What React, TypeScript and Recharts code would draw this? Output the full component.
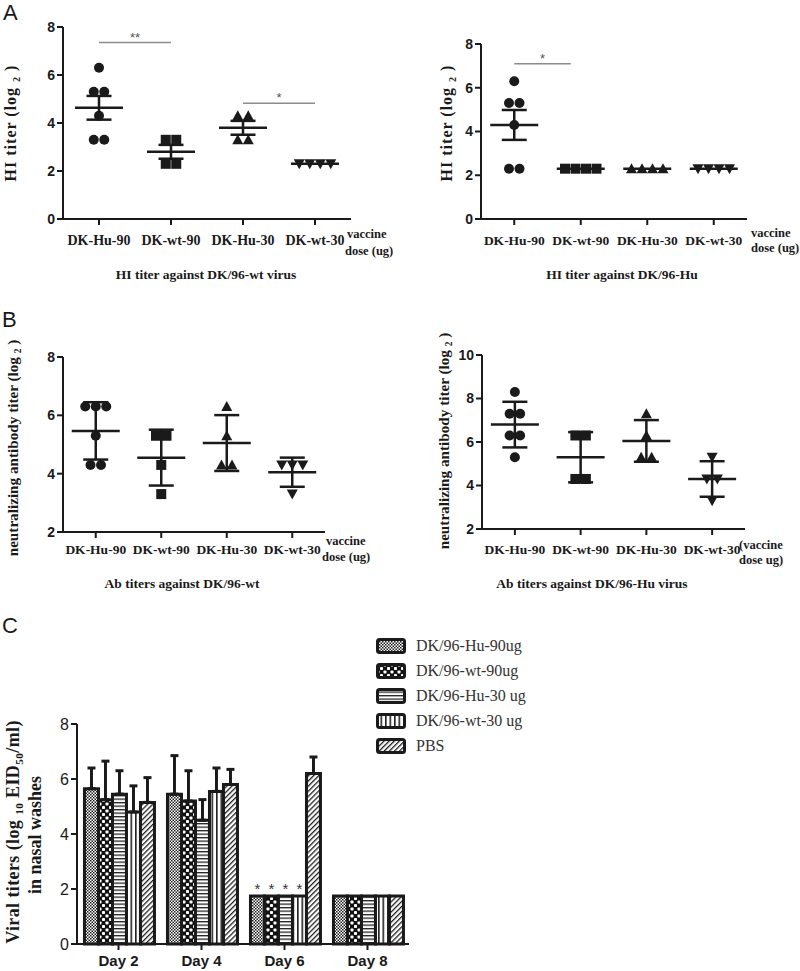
import React from 'react';
import {
  ScatterChart, Scatter, XAxis, YAxis, ErrorBar, ReferenceLine,
  BarChart, Bar, LabelList, Legend,
} from 'recharts';

const SERIF = '"Liberation Serif", "Times New Roman", serif';
const SANS = '"Liberation Sans", Arial, sans-serif';
const INK = '#1a1a1a';

// vaccine groups (x categories of panels A and B)
const groups = ['DK-Hu-90', 'DK-wt-90', 'DK-Hu-30', 'DK-wt-30'];

// A left: HI titer against DK/96-wt virus (log2), one value per bird
const hiWtHu90 = [6.3, 5.3, 5.3, 4.3, 3.3, 3.3];
const hiWtWt90 = [3.3, 3.3, 2.3, 2.3];
const hiWtHu30 = [4.3, 4.3, 3.3, 3.3];
const hiWtWt30 = [2.3, 2.3, 2.3, 2.3];

// A right: HI titer against DK/96-Hu
const hiHuHu90 = [6.3, 5.3, 5.3, 4.3, 2.3, 2.3];
const hiHuWt90 = [2.3, 2.3, 2.3, 2.3];
const hiHuHu30 = [2.3, 2.3, 2.3, 2.3];
const hiHuWt30 = [2.3, 2.3, 2.3, 2.3];

// B left: neutralizing Ab titers against DK/96-wt
const nWtHu90 = [6.3, 6.3, 6.3, 5.3, 4.3, 4.3];
const nWtWt90 = [5.3, 5.3, 4.3, 3.3];
const nWtHu30 = [6.3, 5.3, 4.3, 4.3];
const nWtWt30 = [4.3, 4.3, 4.3, 3.3];

// B right: neutralizing Ab titers against DK/96-Hu virus
const nHuHu90 = [8.3, 7.3, 7.3, 6.3, 6.3, 5.3];
const nHuWt90 = [6.3, 6.3, 4.3, 4.3];
const nHuHu30 = [7.3, 6.3, 5.3, 5.3];
const nHuWt30 = [5.3, 4.3, 4.3, 3.3];

// significance brackets (x from/to in group units, y level)
const sigHiWt = [
  { from: 0.5, to: 1.5, y: 7.35, mark: '**' },
  { from: 2.5, to: 3.5, y: 4.82, mark: '*' },
];
const sigHiHu = [{ from: 0.5, to: 1.35, y: 7.1, mark: '*' }];

// C: viral titers in nasal washes
const days = ['Day 2', 'Day 4', 'Day 6', 'Day 8'];
const seriesNames = ['DK/96-Hu-90ug', 'DK/96-wt-90ug', 'DK/96-Hu-30 ug', 'DK/96-wt-30 ug', 'PBS'];
const titerHu90 = [5.65, 5.45, 1.75, 1.75];
const titerWt90 = [5.25, 5.2, 1.75, 1.75];
const titerHu30 = [5.45, 4.5, 1.75, 1.75];
const titerWt30 = [4.8, 5.55, 1.75, 1.75];
const titerPbs = [5.15, 5.8, 6.2, 1.75];
const sdHu90 = [0.75, 1.4, null, null];
const sdWt90 = [1.4, 1.1, null, null];
const sdHu30 = [0.85, 0.75, null, null];
const sdWt30 = [0.95, 0.85, null, null];
const sdPbs = [0.9, 0.55, 0.6, null];
const sigMark = ['', '', '*', ''];

const barKeys = ['hu90', 'wt90', 'hu30', 'wt30', 'pbs'];
const barValues = [titerHu90, titerWt90, titerHu30, titerWt30, titerPbs];
const barSd = [sdHu90, sdWt90, sdHu30, sdWt30, sdPbs];
const patternIds = ['pFine', 'pCoarse', 'pHor', 'pVer', 'pDiag'];

const barRows = days.map((day, i) => {
  const row: any = { day };
  barKeys.forEach((k, s) => {
    row[k] = barValues[s][i];
    const e = barSd[s][i];
    row[k + 'Err'] = e == null ? null : [0, e];
    row[k + 'Sig'] = s < 4 ? sigMark[i] : '';
  });
  return row;
});

const mean = (a: number[]) => a.reduce((s, v) => s + v, 0) / a.length;
const stdev = (a: number[]) => {
  const m = mean(a);
  return Math.sqrt(a.reduce((s, v) => s + (v - m) ** 2, 0) / (a.length - 1));
};

// lay equal values side by side around the group centre
function spread(vals: number[], center: number, step: number) {
  const counts = new Map<number, number>();
  vals.forEach((v) => counts.set(v, (counts.get(v) || 0) + 1));
  const seen = new Map<number, number>();
  return vals.map((v) => {
    const n = counts.get(v) || 1;
    const k = seen.get(v) || 0;
    seen.set(v, k + 1);
    return { x: center + (k - (n - 1) / 2) * step, y: v };
  });
}

const markerKinds = ['circle', 'square', 'up', 'down'];

function Marker({ kind, cx, cy }: { kind: string; cx: number; cy: number }) {
  if (kind === 'circle') return <circle cx={cx} cy={cy} r={5} fill={INK} />;
  if (kind === 'square') return <rect x={cx - 5} y={cy - 5} width={10} height={10} fill={INK} />;
  if (kind === 'up')
    return <polygon points={`${cx},${cy - 5.5} ${cx + 5.5},${cy + 4.5} ${cx - 5.5},${cy + 4.5}`} fill={INK} />;
  return <polygon points={`${cx},${cy + 5.5} ${cx + 5.5},${cy - 4.5} ${cx - 5.5},${cy - 4.5}`} fill={INK} />;
}

type Margin = { top: number; right: number; bottom: number; left: number };

function DotPanel(props: {
  left: number; top: number; width: number; height: number; margin: Margin;
  sets: number[][]; useSd: boolean; yDomain: [number, number]; yTicks: number[];
  sig?: { from: number; to: number; y: number; mark: string }[];
  catFont: number; catMargin: number;
}) {
  const { left, top, width, height, margin, sets, useSd, yDomain, yTicks, sig = [], catFont, catMargin } = props;
  const plotW = width - margin.left - margin.right - 40;
  const step = (10.5 * 4) / plotW;
  const summary = sets.map((vals, i) => ({
    x: i + 0.5,
    y: mean(vals),
    err: useSd ? stdev(vals) : stdev(vals) / Math.sqrt(vals.length),
  }));
  return (
    <div style={{ position: 'absolute', left, top }}>
      <ScatterChart width={width} height={height} margin={margin}>
        <XAxis
          type="number" dataKey="x" domain={[0, 4]} ticks={[0.5, 1.5, 2.5, 3.5]} interval={0}
          allowDataOverflow tickFormatter={(v: number) => groups[Math.floor(v)]}
          height={30} tickSize={6} tickMargin={catMargin}
          tick={{ fill: INK, fontSize: catFont, fontWeight: 'bold', fontFamily: SERIF }}
          axisLine={{ stroke: INK, strokeWidth: 2 }} tickLine={{ stroke: INK, strokeWidth: 2 }}
        />
        <YAxis
          type="number" dataKey="y" domain={yDomain} ticks={yTicks} interval={0} allowDataOverflow
          width={40} tickSize={6}
          tick={{ fill: INK, fontSize: 14, fontWeight: 'bold', fontFamily: SANS }}
          axisLine={{ stroke: INK, strokeWidth: 2 }} tickLine={{ stroke: INK, strokeWidth: 2 }}
        />
        {sig.map((s, i) => (
          <ReferenceLine
            key={i}
            segment={[{ x: s.from, y: s.y }, { x: s.to, y: s.y }]}
            stroke="#8c8c8c" strokeWidth={1.5}
            label={{ value: s.mark, position: 'top', offset: 1, fill: '#555', fontSize: 13, fontFamily: SANS }}
          />
        ))}
        {sets.map((vals, i) => (
          <Scatter
            key={i}
            data={spread(vals, i + 0.5, step)}
            isAnimationActive={false}
            shape={(p: any) => <Marker kind={markerKinds[i]} cx={p.cx} cy={p.cy} />}
          />
        ))}
        <Scatter
          data={summary}
          isAnimationActive={false}
          shape={(p: any) => (
            <line x1={p.cx - 24} x2={p.cx + 24} y1={p.cy} y2={p.cy} stroke={INK} strokeWidth={2.5} />
          )}
        >
          <ErrorBar dataKey="err" direction="y" width={12.5} stroke={INK} strokeWidth={2.5} />
        </Scatter>
      </ScatterChart>
    </div>
  );
}

function VTitle({ x, y, size, spacing = 0, children }: { x: number; y: number; size: number; spacing?: number; children: React.ReactNode }) {
  return (
    <text
      transform={`translate(${x},${y}) rotate(-90)`} textAnchor="middle"
      fontFamily={SERIF} fontWeight="bold" fontSize={size} fill={INK} letterSpacing={spacing}
    >
      {children}
    </text>
  );
}

function Sub({ size, children }: { size: number; children: React.ReactNode }) {
  return (
    <>
      <tspan fontSize={size * 0.62} dy={size * 0.22}>{children}</tspan>
      <tspan dy={-size * 0.22}>{' '}</tspan>
    </>
  );
}

function BoldText({ x, y, size = 12.5, children, anchor = 'start' }: { x: number; y: number; size?: number; children: React.ReactNode; anchor?: string }) {
  return (
    <text x={x} y={y} textAnchor={anchor as any} fontFamily={SERIF} fontWeight="bold" fontSize={size} fill={INK}>
      {children}
    </text>
  );
}

function LegendBox() {
  return (
    <div>
      {seriesNames.map((n, i) => (
        <div key={n} style={{ display: 'flex', alignItems: 'center', height: 24.8 }}>
          <svg width={30} height={16}>
            <rect x={1.5} y={1.5} width={27} height={13} rx={2} fill={`url(#${patternIds[i]})`} stroke={INK} strokeWidth={3} />
          </svg>
          <span style={{ marginLeft: 10, fontFamily: SERIF, fontSize: 16, color: '#333', lineHeight: '16px' }}>{n}</span>
        </div>
      ))}
    </div>
  );
}

function Overlay() {
  return (
    <svg width={800} height={971} style={{ position: 'absolute', left: 0, top: 0 }}>
      <defs>
        <pattern id="pFine" width={3} height={3} patternUnits="userSpaceOnUse">
          <rect width={3} height={3} fill="#fff" />
          <rect width={1.5} height={1.5} fill="#222" />
          <rect x={1.5} y={1.5} width={1.5} height={1.5} fill="#222" />
        </pattern>
        <pattern id="pCoarse" width={7} height={7} patternUnits="userSpaceOnUse">
          <rect width={7} height={7} fill="#111" />
          <rect x={0.5} y={0.5} width={3} height={3} rx={0.8} fill="#fff" />
          <rect x={4} y={4} width={3} height={3} rx={0.8} fill="#fff" />
        </pattern>
        <pattern id="pHor" width={4} height={3.5} patternUnits="userSpaceOnUse">
          <rect width={4} height={3.5} fill="#fff" />
          <rect width={4} height={1.3} fill="#222" />
        </pattern>
        <pattern id="pVer" width={4.5} height={4} patternUnits="userSpaceOnUse">
          <rect width={4.5} height={4} fill="#fff" />
          <rect width={1.6} height={4} fill="#222" />
        </pattern>
        <pattern id="pDiag" width={3.6} height={3.6} patternUnits="userSpaceOnUse" patternTransform="rotate(45)">
          <rect width={3.6} height={3.6} fill="#fff" />
          <rect width={1.3} height={3.6} fill="#222" />
        </pattern>
      </defs>

      <g fontFamily={SANS} fontSize={22} fill={INK}>
        <text x={3} y={20}>A</text>
        <text x={2} y={327}>B</text>
        <text x={2} y={633}>C</text>
      </g>

      <VTitle x={16} y={123} size={16} spacing={1}>HI titer (log <Sub size={16}>2</Sub>)</VTitle>
      <VTitle x={452} y={123} size={16} spacing={1}>HI titer (log <Sub size={16}>2</Sub>)</VTitle>
      <VTitle x={18} y={448} size={15.2}>neutralizing antibody titer (log <Sub size={15.2}>2</Sub>)</VTitle>
      <VTitle x={449} y={441} size={15.2}>neutralizing antibody titer (log <Sub size={15.2}>2</Sub>)</VTitle>
      <VTitle x={19} y={832} size={18} spacing={0.4}>
        Viral titers (log <Sub size={18}>10</Sub>EID<tspan fontSize={18 * 0.62} dy={4}>50</tspan><tspan dy={-4}>/ml)</tspan>
      </VTitle>
      <VTitle x={41} y={835} size={18}>in nasal washes</VTitle>

      <BoldText x={206} y={279} size={13.5} anchor="middle">HI titer against DK/96-wt virus</BoldText>
      <BoldText x={622} y={279} size={13.5} anchor="middle">HI titer against DK/96-Hu</BoldText>
      <BoldText x={182} y={588} size={13.5} anchor="middle">Ab titers against DK/96-wt</BoldText>
      <BoldText x={592} y={588} size={13.5} anchor="middle">Ab titers against DK/96-Hu virus</BoldText>

      <BoldText x={347} y={238}>vaccine</BoldText>
      <BoldText x={345} y={255}>dose (ug)</BoldText>
      <BoldText x={751} y={237}>vaccine</BoldText>
      <BoldText x={751} y={252}>dose (ug)</BoldText>
      <BoldText x={326} y={545}>vaccine</BoldText>
      <BoldText x={322} y={561}>dose (ug)</BoldText>
      <BoldText x={739} y={549}>(vaccine</BoldText>
      <BoldText x={739} y={564}>dose ug)</BoldText>
    </svg>
  );
}

export default function App() {
  return (
    <div style={{ position: 'absolute', left: 0, top: 0, width: 800, height: 971, background: '#fff', overflow: 'hidden' }}>
      <Overlay />
      <DotPanel
        left={0} top={0} width={420} height={300}
        margin={{ top: 27, right: 69, bottom: 51, left: 23 }}
        sets={[hiWtHu90, hiWtWt90, hiWtHu30, hiWtWt30]} useSd={false}
        yDomain={[0, 8]} yTicks={[0, 2, 4, 6, 8]} sig={sigHiWt} catFont={14} catMargin={10}
      />
      <DotPanel
        left={420} top={0} width={380} height={300}
        margin={{ top: 44, right: 53, bottom: 51, left: 21 }}
        sets={[hiHuHu90, hiHuWt90, hiHuHu30, hiHuWt30]} useSd={false}
        yDomain={[0, 8]} yTicks={[0, 2, 4, 6, 8]} sig={sigHiHu} catFont={13.5} catMargin={10.4}
      />
      <DotPanel
        left={0} top={300} width={420} height={320}
        margin={{ top: 57, right: 95, bottom: 58, left: 23 }}
        sets={[nWtHu90, nWtWt90, nWtHu30, nWtWt30]} useSd
        yDomain={[2, 8]} yTicks={[2, 4, 6, 8]} catFont={13.5} catMargin={6.4}
      />
      <DotPanel
        left={420} top={300} width={380} height={320}
        margin={{ top: 55, right: 55, bottom: 61, left: 22 }}
        sets={[nHuHu90, nHuWt90, nHuHu30, nHuWt30]} useSd
        yDomain={[2, 10]} yTicks={[2, 4, 6, 8, 10]} catFont={13.5} catMargin={9.4}
      />

      <div style={{ position: 'absolute', left: 0, top: 620 }}>
        <BarChart
          width={800} height={351} data={barRows}
          margin={{ top: 104, right: 391, bottom: 5, left: 32 }}
          barCategoryGap="9%" barGap={0}
        >
          <XAxis
            dataKey="day" height={22} tickSize={6} tickMargin={5}
            tick={{ fill: INK, fontSize: 15, fontWeight: 'bold', fontFamily: SANS }}
            axisLine={{ stroke: INK, strokeWidth: 2 }} tickLine={{ stroke: INK, strokeWidth: 2 }}
          />
          <YAxis
            domain={[0, 8]} ticks={[0, 2, 4, 6, 8]} interval={0} width={45} tickSize={6}
            tick={{ fill: INK, fontSize: 16, fontFamily: SANS }}
            axisLine={{ stroke: INK, strokeWidth: 2 }} tickLine={{ stroke: INK, strokeWidth: 2 }}
          />
          <Legend
            layout="vertical" align="center" verticalAlign="middle"
            wrapperStyle={{ left: 376, top: 14, width: 220 }}
            content={() => <LegendBox />}
          />
          {barKeys.map((k, s) => (
            <Bar
              key={k} dataKey={k} name={seriesNames[s]} fill={`url(#${patternIds[s]})`}
              stroke={INK} strokeWidth={3} isAnimationActive={false}
            >
              <ErrorBar dataKey={k + 'Err'} direction="y" width={4} stroke={INK} strokeWidth={3} />
              <LabelList dataKey={k + 'Sig'} position="top" offset={2} fill="#333" fontSize={15} fontFamily={SANS} />
            </Bar>
          ))}
        </BarChart>
      </div>
    </div>
  );
}
